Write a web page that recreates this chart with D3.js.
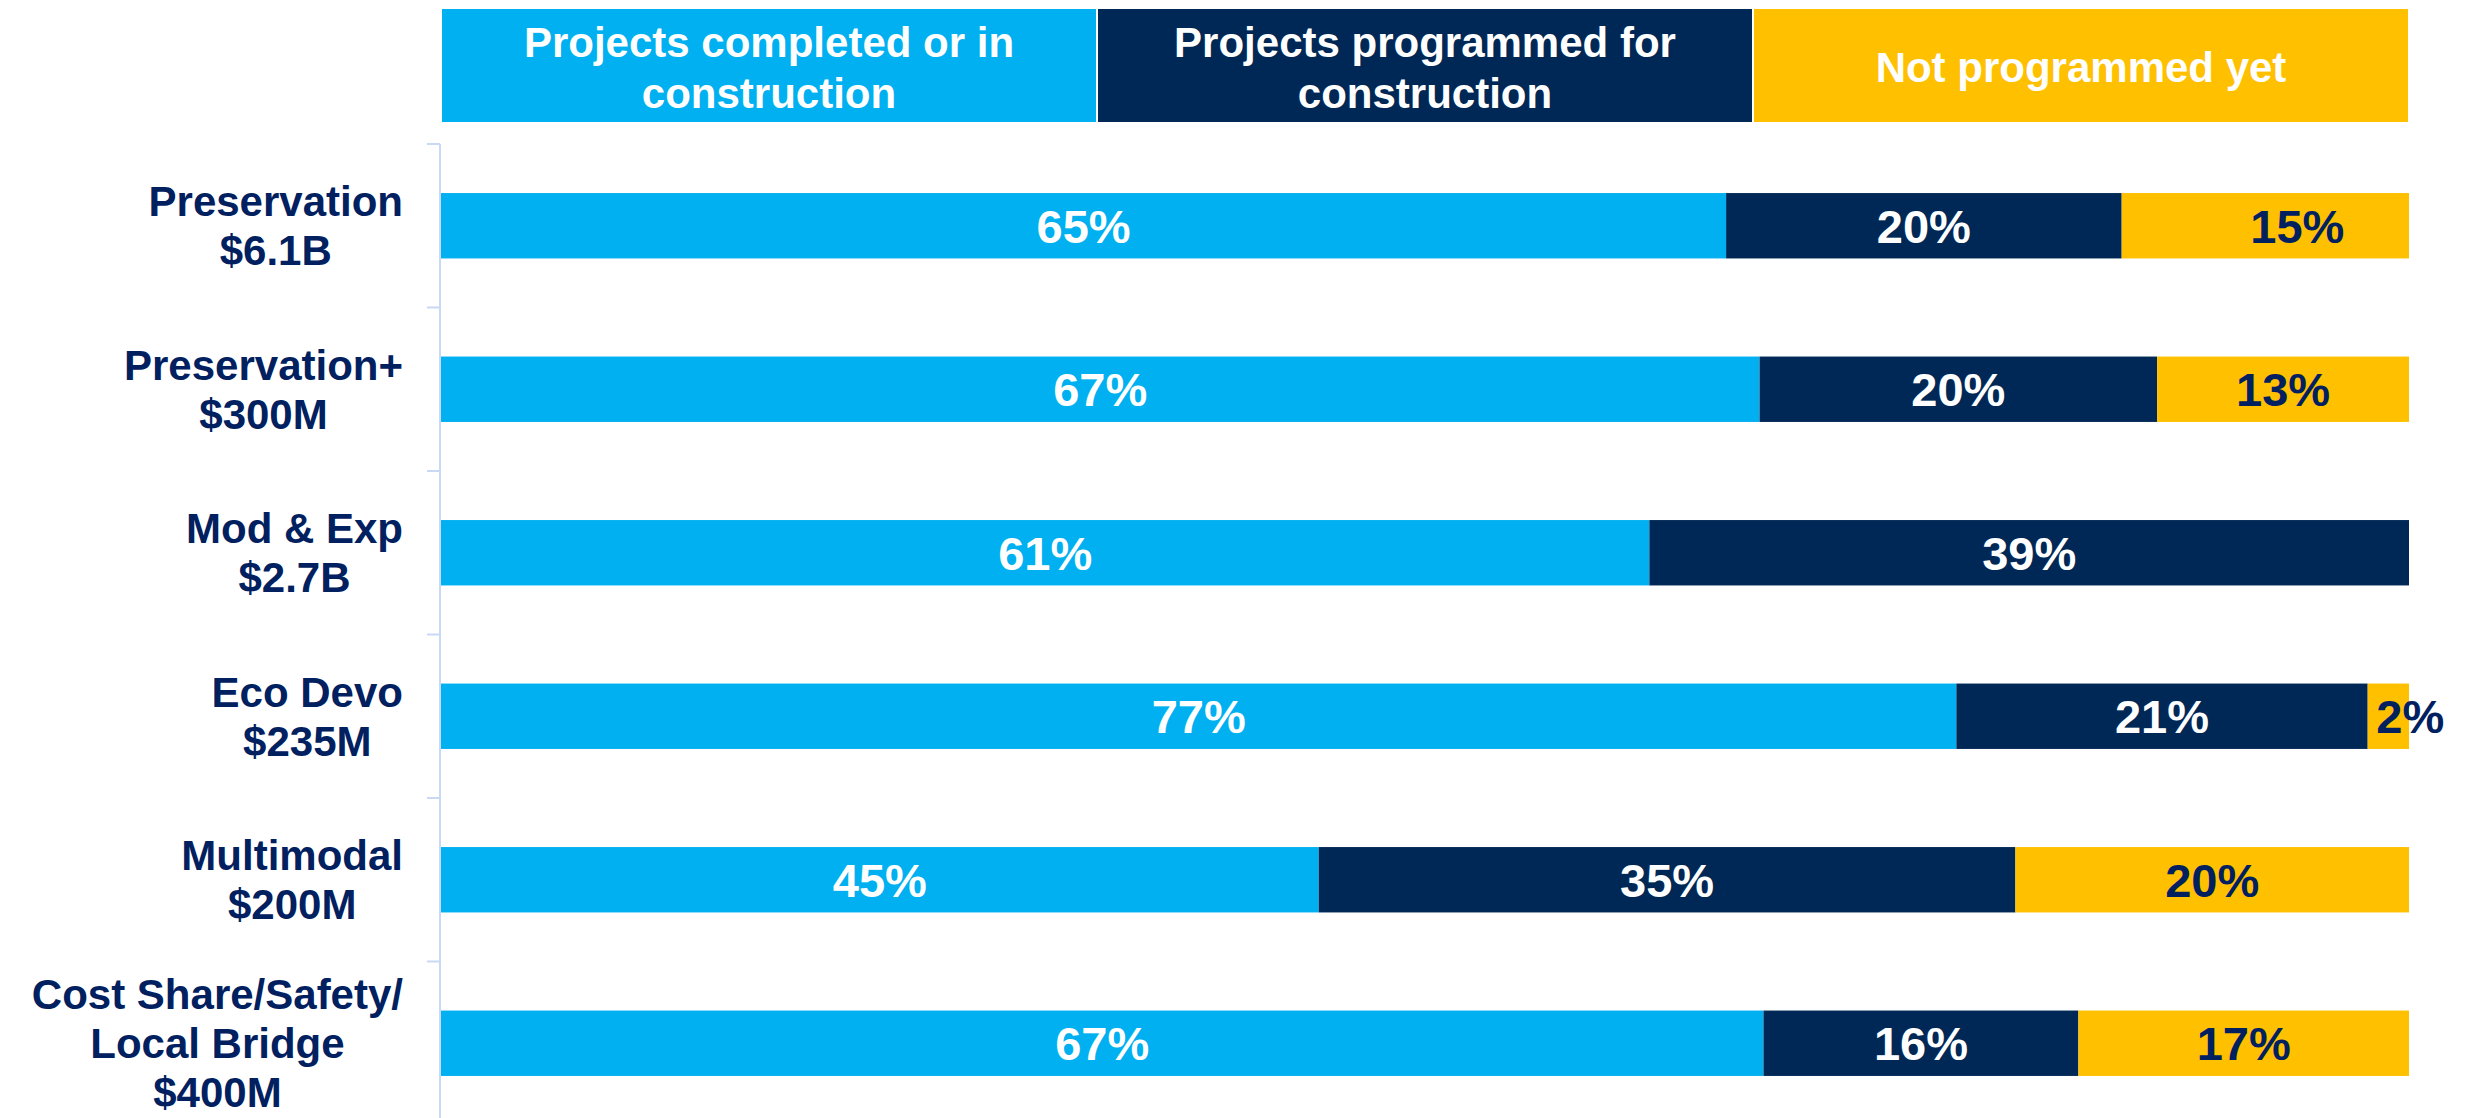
<!DOCTYPE html>
<html>
<head>
<meta charset="utf-8">
<script src="https://cdn.jsdelivr.net/npm/d3@7"></script>
<style>
  body { margin: 0; background: #fff; }
  svg { display: block; font-family: "Liberation Sans", Arial, sans-serif; font-weight: bold; }
</style>
</head>
<body>
<div id="chart"></div>
<script>
const width = 2475;
const height = 1118;

// program categories, one line per array entry
const programLines = [
    ["Preservation", "$6.1B"],
    ["Preservation+", "$300M"],
    ["Mod & Exp", "$2.7B"],
    ["Eco Devo", "$235M"],
    ["Multimodal", "$200M"],
    ["Cost Share/Safety/", "Local Bridge", "$400M"]
];
const programs = programLines.map((d) => d.join(" "));

const statusKeys = ["completed", "programmed", "notProgrammed"];
const statusLabels = [
    ["Projects completed or in", "construction"],
    ["Projects programmed for", "construction"],
    ["Not programmed yet"]
];

// percent of each program (labels are rounded)
const completed = [65.3, 67.0, 61.4, 77.0, 44.6, 67.2];
const programmed = [20.1, 20.2, 38.6, 20.9, 35.4, 16.0];
const notProgrammed = [14.6, 12.8, 0, 2.1, 20.0, 16.8];

const colors = ["#00B0F0", "#002856", "#FFC000"];
const textColors = ["#ffffff", "#ffffff", "#002060"];

// a couple of labels sit off-centre in the original
const labelNudge = {
    "Preservation $6.1B|notProgrammed": 32,
    "Eco Devo $235M|notProgrammed": 22
};

const rows = programs.map((p, i) => ({
    program: p,
    completed: completed[i],
    programmed: programmed[i],
    notProgrammed: notProgrammed[i]
}));

const x = d3.scaleLinear().domain([0, 100]).range([441, 2409]);
const y = d3.scaleBand()
    .domain(programs)
    .range([144, 144 + 6 * 163.5])
    .paddingInner(0.6)
    .paddingOuter(0.3);

const svg = d3.select("#chart").append("svg")
    .attr("width", width)
    .attr("height", height);

// header boxes acting as legend
const third = 100 / 3;
const header = svg.append("g").selectAll("g")
    .data(statusKeys)
    .join("g");

header.append("rect")
    .attr("x", (d, i) => x(i * third))
    .attr("y", 8)
    .attr("width", x(third) - x(0))
    .attr("height", 115)
    .attr("fill", (d, i) => colors[i])
    .attr("stroke", "#fff")
    .attr("stroke-width", 2);

header.append("text")
    .attr("fill", "#fff")
    .attr("font-size", 42)
    .attr("text-anchor", "middle")
    .attr("x", (d, i) => x((i + 0.5) * third))
    .selectAll("tspan")
    .data((d, i) => statusLabels[i].map((t, j, arr) => ({ t, j, n: arr.length })))
    .join("tspan")
    .attr("x", function () { return this.parentNode.getAttribute("x"); })
    .attr("y", (d) => 66 + (d.j - (d.n - 1) / 2) * 51 + 16)
    .text((d) => d.t);

// axis line and ticks at band boundaries
const step = y.step();
const tickYs = programs.map((p) => y(p) - step * 0.3);
tickYs.push(tickYs[tickYs.length - 1] + step);

const axis = svg.append("g").attr("stroke", "#C9D8F5").attr("stroke-width", 2);
axis.append("line")
    .attr("x1", 440).attr("x2", 440)
    .attr("y1", tickYs[0]).attr("y2", tickYs[tickYs.length - 1]);
axis.selectAll(".tick")
    .data(tickYs)
    .join("line")
    .attr("class", "tick")
    .attr("x1", 427).attr("x2", 440)
    .attr("y1", (d) => d).attr("y2", (d) => d);

// stacked bars
const series = d3.stack().keys(statusKeys)(rows);

const layer = svg.append("g").selectAll("g")
    .data(series)
    .join("g")
    .attr("fill", (d, i) => colors[i]);

layer.selectAll("rect")
    .data((d) => d.filter((s) => s[1] > s[0]))
    .join("rect")
    .attr("x", (d) => x(d[0]))
    .attr("y", (d) => y(d.data.program))
    .attr("width", (d) => x(d[1]) - x(d[0]))
    .attr("height", y.bandwidth());

series.forEach((s, i) => {
    svg.append("g")
        .selectAll("text")
        .data(s.filter((d) => d[1] > d[0]))
        .join("text")
        .attr("x", (d) => (x(d[0]) + x(d[1])) / 2 + (labelNudge[d.data.program + "|" + s.key] || 0))
        .attr("y", (d) => y(d.data.program) + y.bandwidth() / 2)
        .attr("dy", "0.36em")
        .attr("text-anchor", "middle")
        .attr("font-size", 47)
        .attr("fill", textColors[i])
        .text((d) => `${Math.round(d[1] - d[0])}%`);
});

// category labels: lines centred on each other, block right-aligned
const labelRight = 403;
programLines.forEach((lines, i) => {
    const mid = y(programs[i]) + y.bandwidth() / 2;
    const t = svg.append("text")
        .attr("fill", "#002060")
        .attr("font-size", 42)
        .attr("text-anchor", "middle");
    const spans = t.selectAll("tspan")
        .data(lines)
        .join("tspan")
        .attr("y", (d, j) => mid + (j - (lines.length - 1) / 2) * 49 + 15)
        .text((d) => d);
    let maxW = 0;
    spans.each(function () { maxW = Math.max(maxW, this.getComputedTextLength()); });
    spans.attr("x", labelRight - maxW / 2);
});
</script>
</body>
</html>
